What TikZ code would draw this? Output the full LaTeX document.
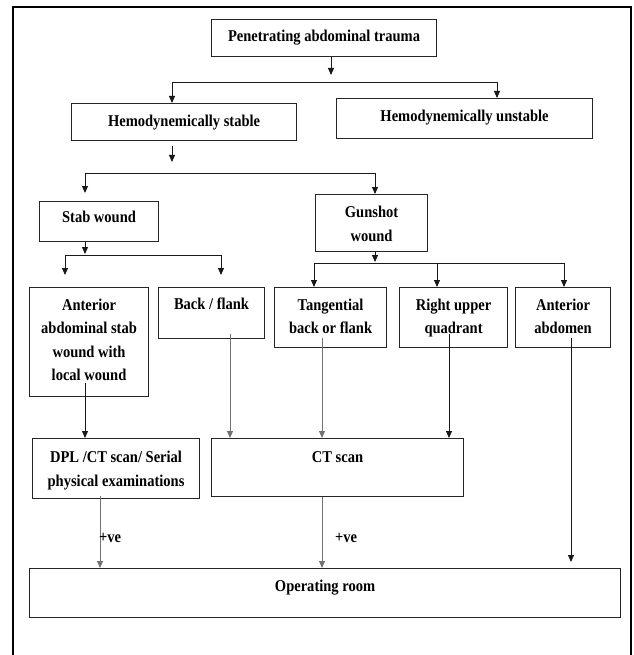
\documentclass[tikz,border=0pt]{standalone}
\usepackage{fontspec}
\setmainfont{Liberation Serif}[FakeStretch=0.88]
\usetikzlibrary{arrows.meta,calc}
% #6 = baseline of the last text line
\newcommand\flowbox[7]{%
 \pgfmathsetmacro\fbw{#4-#2}\pgfmathsetmacro\fbh{#5-#3}%
 \pgfmathsetmacro\fbt{#6-#3}\pgfmathsetmacro\fbd{#5-#6}%
 \node[box,minimum width=\fbw pt,minimum height=\fbh pt,text height=\fbt pt,text depth=\fbd pt] (#1) at (#2,#3) {#7};}
\begin{document}
\begin{tikzpicture}[x=1pt,y=-1pt,
 box/.style={draw=black!85,line width=1.1pt,inner sep=0pt,align=center,anchor=north west,
   font=\bfseries\fontsize{16.5}{23.5}\selectfont},
 link/.style={draw=black!90,line width=0.9pt},
 glink/.style={draw=black!55,line width=0.9pt},
 arr/.style={link,-{Triangle[length=7pt,width=6pt]}},
 garr/.style={glink,-{Triangle[length=7pt,width=6pt]}},
 lbl/.style={font=\bfseries\fontsize{16.5}{23.5}\selectfont,inner sep=0pt,anchor=base west}]
\useasboundingbox (0,0) rectangle (633,655);
\draw[line width=2pt] (13,655) -- (13,7) -- (631,7) -- (631,655);

\flowbox{pat}{211}{19}{436}{56}{40.7}{Penetrating abdominal trauma}
\flowbox{hs}{71}{103}{296}{140}{125.5}{Hemodynemically stable}
\flowbox{hu}{336}{98}{592}{138}{120.5}{Hemodynemically unstable}
\flowbox{stab}{39}{201}{158}{241}{222}{Stab wound}
\flowbox{gun}{315}{194}{427}{251}{240.5}{Gunshot\\wound}
\flowbox{as}{29}{287}{148}{396}{380}{Anterior\\abdominal stab\\wound with\\local wound}
\flowbox{bf}{158}{287}{264}{338}{309}{Back / flank}
\flowbox{tg}{274}{287}{386}{347}{333}{Tangential\\back or flank}
\flowbox{ruq}{399}{287}{507}{347}{333}{Right upper\\quadrant}
\flowbox{aa}{515}{287}{610}{347}{333}{Anterior\\abdomen}
\flowbox{dpl}{32}{438}{199}{498}{485.5}{DPL /CT scan/ Serial\\physical examinations}
\flowbox{ct}{211}{438}{463}{496}{462}{CT scan}
\flowbox{or}{29}{568}{620}{617}{591}{Operating room}

% level 1
\coordinate (p1) at (331,75);
\draw[arr] (pat.south -| p1) -- (p1);
\coordinate (b1l) at (172,82); \coordinate (b1r) at (497,82);
\draw[link] (b1l) -- (b1r);
\draw[arr] (b1l) -- (hs.north -| b1l);
\draw[arr] (b1r) -- (hu.north -| b1r);

% level 2
\coordinate (p2) at (172,162);
\draw[arr] ([yshift=-5pt]hs.south -| p2) -- (p2);
\coordinate (b2l) at (85,173); \coordinate (b2r) at (375,173);
\coordinate (t2l) at (85,193);
\draw[link] (b2l) -- (b2r);
\draw[arr] (b2l) -- (t2l);
\draw[arr] (b2r) -- (gun.north -| b2r);

% stab wound branch
\coordinate (p3) at (85,254);
\draw[arr] (stab.south -| p3) -- (p3);
\coordinate (b3l) at (65,255); \coordinate (b3r) at (221,255);
\coordinate (t3l) at (65,275); \coordinate (t3r) at (221,275);
\draw[link] (b3l) -- (b3r);
\draw[arr] (b3l) -- (t3l);
\draw[arr] (b3r) -- (t3r);

% gunshot branch
\coordinate (p4) at (375,262);
\draw[arr] (gun.south -| p4) -- (p4);
\coordinate (b4l) at (314,263); \coordinate (b4m) at (437,263); \coordinate (b4r) at (564,263);
\draw[link] (b4l) -- (b4r);
\draw[arr] (b4l) -- (tg.north -| b4l);
\draw[arr] (b4m) -- (ruq.north -| b4m);
\draw[arr] (b4r) -- (aa.north -| b4r);

% lower connectors
\coordinate (cas) at (85,0); \coordinate (cbf) at (230,0); \coordinate (ctg) at (322,0);
\coordinate (cru) at (449,0); \coordinate (cdp) at (100,0);
\coordinate (taa) at (571,562);
\draw[arr] ([yshift=14pt]as.south -| cas) -- (dpl.north -| cas);
\draw[garr] ([yshift=5pt]bf.south -| cbf) -- (ct.north -| cbf);
\draw[garr] ([yshift=10pt]tg.south -| ctg) -- (ct.north -| ctg);
\draw[arr] ([yshift=14pt]ruq.south -| cru) -- (ct.north -| cru);
\draw[arr] ([yshift=10pt]aa.south -| taa) -- (taa);
\draw[garr] ([yshift=3pt]dpl.south -| cdp) -- (or.north -| cdp);
\draw[garr] (ct.south -| ctg) -- (or.north -| ctg);

\node[lbl] (pv1) at (99,542) {+ve};
\node[lbl] (pv2) at (335,542) {+ve};
\end{tikzpicture}
\end{document}
